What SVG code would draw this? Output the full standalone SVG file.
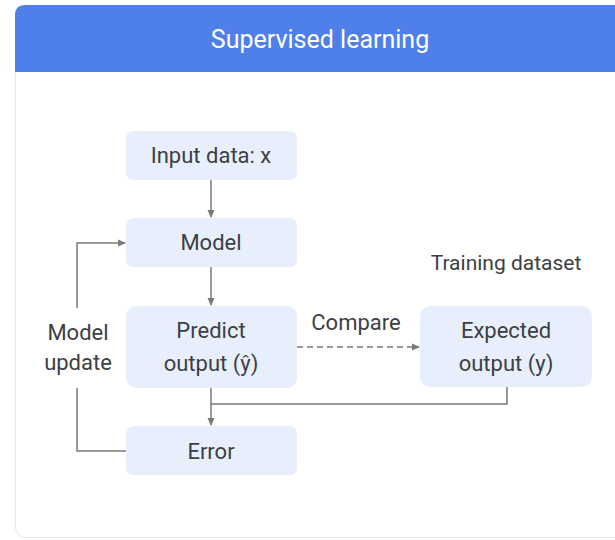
<svg xmlns="http://www.w3.org/2000/svg" width="615" height="540" viewBox="0 0 615 540">
  <defs>
    <marker id="arr" markerWidth="8" markerHeight="8" refX="7" refY="4" orient="auto" markerUnits="userSpaceOnUse">
      <path d="M0,0.5 L8,4 L0,7.5 Z" fill="#7a7a7a"/>
    </marker>
    <style>
      .box { fill: #e8effc; }
      .t { font-family: Roboto, "Liberation Sans", sans-serif; font-size: 22px; fill: #3c4043; text-anchor: middle; }
      .c { fill: none; stroke: #7a7a7a; stroke-width: 1.5; }
    </style>
  </defs>
  <rect x="0" y="0" width="615" height="540" fill="#ffffff"/>
  <g id="card">
    <rect x="15.5" y="5.5" width="640" height="532" rx="10" fill="#ffffff" stroke="#e6e6e6" stroke-width="1"/>
    <path d="M15,72 L15,15 Q15,5 25,5 L615,5 L615,72 Z" fill="#4f7fe8"/>
    <text x="320" y="48" font-family="Roboto, 'Liberation Sans', sans-serif" font-size="25" fill="#ffffff" text-anchor="middle">Supervised learning</text>
  </g>
  <g id="connectors">
    <line class="c" x1="211" y1="180" x2="211" y2="217" marker-end="url(#arr)"/>
    <line class="c" x1="211" y1="267" x2="211" y2="305" marker-end="url(#arr)"/>
    <line class="c" x1="211" y1="388" x2="211" y2="425" marker-end="url(#arr)"/>
    <polyline class="c" points="507,387 507,404 211,404"/>
    <line class="c" x1="297" y1="347" x2="419" y2="347" stroke-dasharray="6,4" marker-end="url(#arr)"/>
    <polyline class="c" points="126,451 77,451 77,388"/>
    <polyline class="c" points="77,308 77,243 125,243" marker-end="url(#arr)"/>
  </g>
  <g id="input">
    <rect class="box" x="126" y="131" width="171" height="49" rx="7"/>
    <text class="t" x="211" y="163">Input data: x</text>
  </g>
  <g id="model">
    <rect class="box" x="126" y="218" width="171" height="49" rx="7"/>
    <text class="t" x="211" y="250">Model</text>
  </g>
  <g id="predict">
    <rect class="box" x="126" y="306" width="171" height="82" rx="10"/>
    <text class="t" x="211" y="338">Predict</text>
    <text class="t" x="211" y="371">output (ŷ)</text>
  </g>
  <g id="error">
    <rect class="box" x="126" y="426" width="171" height="49" rx="7"/>
    <text class="t" x="211" y="459">Error</text>
  </g>
  <g id="expected">
    <rect class="box" x="420" y="306" width="172" height="81" rx="10"/>
    <text class="t" x="506" y="338">Expected</text>
    <text class="t" x="506" y="371">output (y)</text>
  </g>
  <g id="labels">
    <text class="t" x="78" y="340">Model</text>
    <text class="t" x="78" y="370">update</text>
    <text class="t" x="356" y="330">Compare</text>
    <text class="t" x="506" y="270" style="font-size:21px">Training dataset</text>
  </g>
</svg>
